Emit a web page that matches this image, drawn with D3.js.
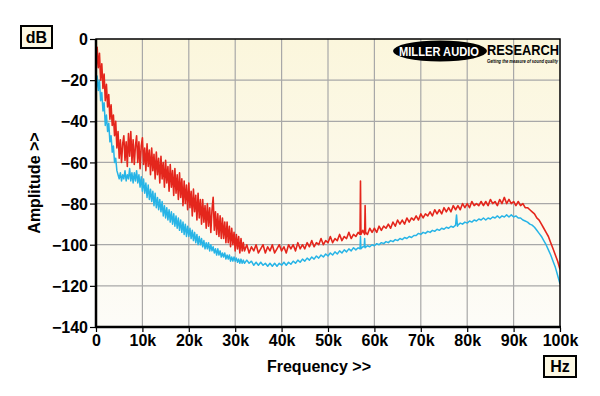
<!DOCTYPE html>
<html>
<head>
<meta charset="utf-8">
<script src="https://cdn.jsdelivr.net/npm/d3@7"></script>
<style>
  body { margin: 0; background: #fff; }
  svg { display: block; font-family: Arial, "Liberation Sans", sans-serif; }
</style>
</head>
<body>
<script>
// frequency (kHz), amplitude (dB)
var redSeries = [
  [0, -17], [0.25, -4], [0.5, -14], [0.75, -7], [1, -20], [1.25, -12], [1.5, -24], [1.75, -17],
  [2, -30], [2.25, -22], [2.5, -33], [2.75, -27], [3, -39], [3.25, -32], [3.5, -42], [3.75, -37],
  [4, -47], [4.25, -40], [4.5, -53], [4.75, -45], [5, -58], [5.25, -49], [5.5, -60], [5.75, -51],
  [6, -47], [6.25, -59], [6.5, -50], [6.75, -62], [7, -46], [7.25, -57], [7.5, -45], [7.75, -60],
  [8, -49], [8.25, -61], [8.5, -52], [8.75, -47], [9, -60], [9.25, -50], [9.5, -63], [9.75, -52],
  [10, -48], [10.25, -61], [10.5, -53], [10.75, -64], [11, -51], [11.25, -62], [11.5, -54], [11.75, -66],
  [12, -53], [12.25, -64], [12.5, -56], [12.75, -68], [13, -55], [13.25, -66], [13.5, -58], [13.75, -70],
  [14, -57], [14.25, -68], [14.5, -60], [14.75, -72], [15, -59], [15.25, -70], [15.5, -62], [15.75, -74],
  [16, -61], [16.25, -72], [16.5, -64], [16.75, -76], [17, -63], [17.25, -75], [17.5, -66], [17.75, -78],
  [18, -65], [18.25, -77], [18.5, -68], [18.75, -81], [19, -69], [19.25, -80], [19.5, -71], [19.75, -83],
  [20, -70], [20.25, -82], [20.5, -74], [20.75, -86], [21, -73], [21.25, -84], [21.5, -76], [21.75, -88],
  [22, -75], [22.25, -87], [22.5, -78], [22.75, -90], [23, -78], [23.25, -89], [23.5, -81], [23.75, -92],
  [24, -80], [24.25, -91], [24.5, -82], [24.75, -94], [25, -83], [25.25, -77], [25.5, -93], [25.75, -84],
  [26, -95], [26.25, -85], [26.5, -96], [26.75, -86], [27, -97], [27.25, -87], [27.5, -97], [27.75, -89],
  [28, -99], [28.25, -89], [28.5, -99], [28.75, -91], [29, -101], [29.25, -92], [29.5, -100], [29.75, -94],
  [30, -103], [30.25, -95], [30.5, -102], [30.75, -96], [31, -104], [31.25, -97], [31.5, -103], [31.75, -99],
  [32, -103], [32.5, -100], [33, -104], [33.5, -101], [34, -103], [34.5, -100], [35, -104], [35.5, -102],
  [36, -100], [36.5, -104], [37, -101], [37.5, -103], [38, -100], [38.5, -104], [39, -102], [39.5, -100],
  [40, -103], [40.5, -101], [41, -104], [41.5, -100], [42, -102], [42.5, -100], [43, -103], [43.5, -99],
  [44, -102], [44.5, -100], [45, -102], [45.5, -99], [46, -101], [46.5, -98], [47, -101], [47.5, -99],
  [48, -100], [48.5, -97], [49, -100], [49.5, -98], [50, -99], [50.5, -96], [51, -99], [51.5, -97],
  [52, -98], [52.5, -95], [53, -98], [53.5, -96], [54, -97], [54.5, -94], [55, -97], [55.5, -95],
  [56, -96], [56.5, -94], [56.9, -95], [57, -69], [57.1, -95], [57.5, -93], [57.9, -95], [58, -81],
  [58.1, -94], [58.5, -95], [59, -92], [59.5, -94], [60, -92], [60.5, -94], [61, -91], [61.5, -93],
  [62, -91], [62.5, -92], [63, -90], [63.5, -92], [64, -89], [64.5, -91], [65, -88], [65.5, -90],
  [66, -88], [66.5, -90], [67, -87], [67.5, -89], [68, -87], [68.5, -88], [69, -86], [69.5, -88],
  [70, -85], [70.5, -87], [71, -85], [71.5, -86], [72, -84], [72.5, -86], [73, -83], [73.5, -85],
  [74, -83], [74.5, -85], [75, -82], [75.5, -84], [76, -82], [76.5, -84], [77, -81], [77.5, -83],
  [78, -81], [78.5, -83], [79, -80], [79.5, -82], [80, -80], [80.5, -82], [81, -79], [81.5, -81],
  [82, -80], [82.5, -81], [83, -79], [83.5, -81], [84, -79], [84.5, -81], [85, -78], [85.5, -80],
  [86, -79], [86.5, -81], [87, -78], [87.5, -80], [88, -77], [88.5, -80], [89, -78], [89.5, -80],
  [90, -79], [90.5, -81], [91, -79], [91.5, -81], [92, -80], [92.5, -82], [93, -82], [93.5, -83],
  [94, -84], [94.5, -85], [95, -87], [95.5, -88], [96, -90], [96.5, -92], [97, -94], [97.5, -96],
  [98, -99], [98.5, -102], [99, -105], [99.5, -108], [100, -112]
];

var blueSeries = [
  [0, -26], [0.25, -18], [0.5, -25], [0.75, -20], [1, -30], [1.25, -26], [1.5, -35], [1.75, -31],
  [2, -42], [2.25, -37], [2.5, -45], [2.75, -41], [3, -50], [3.25, -47], [3.5, -55], [3.75, -52],
  [4, -60], [4.25, -58], [4.5, -64], [4.75, -66], [5, -68], [5.25, -65], [5.5, -69], [5.75, -66],
  [6, -68], [6.25, -64], [6.5, -69], [6.75, -66], [7, -68], [7.25, -63], [7.5, -69], [7.75, -65],
  [8, -70], [8.25, -65], [8.5, -69], [8.75, -64], [9, -70], [9.25, -66], [9.5, -72], [9.75, -67],
  [10, -74], [10.25, -68], [10.5, -75], [10.75, -70], [11, -77], [11.25, -71], [11.5, -78], [11.75, -73],
  [12, -79], [12.25, -74], [12.5, -81], [12.75, -75], [13, -82], [13.25, -77], [13.5, -83], [13.75, -78],
  [14, -84], [14.25, -79], [14.5, -86], [14.75, -81], [15, -87], [15.25, -82], [15.5, -88], [15.75, -83],
  [16, -89], [16.25, -84], [16.5, -90], [16.75, -85], [17, -91], [17.25, -86], [17.5, -92], [17.75, -87],
  [18, -93], [18.25, -88], [18.5, -94], [18.75, -89], [19, -95], [19.25, -90], [19.5, -96], [19.75, -91],
  [20, -96], [20.25, -92], [20.5, -97], [20.75, -93], [21, -98], [21.25, -94], [21.5, -99], [21.75, -95],
  [22, -100], [22.25, -96], [22.5, -100], [22.75, -97], [23, -101], [23.25, -98], [23.5, -102], [23.75, -99],
  [24, -102], [24.25, -99], [24.5, -103], [24.75, -100], [25, -103], [25.25, -101], [25.5, -104], [25.75, -102],
  [26, -105], [26.25, -102], [26.5, -105], [26.75, -103], [27, -106], [27.25, -104], [27.5, -106], [27.75, -104],
  [28, -107], [28.25, -105], [28.5, -107], [28.75, -105], [29, -108], [29.25, -106], [29.5, -108], [29.75, -106],
  [30, -108], [30.25, -106.5], [30.5, -108.5], [30.75, -107], [31, -109], [31.25, -107], [31.5, -109], [31.75, -107.5],
  [32, -109], [32.5, -107.5], [33, -109], [33.5, -108], [34, -110], [34.5, -108.5], [35, -110], [35.5, -108.5],
  [36, -110], [36.5, -109], [37, -110.5], [37.5, -109], [38, -110.5], [38.5, -109], [39, -110.5], [39.5, -109],
  [40, -110], [40.5, -108.5], [41, -110], [41.5, -108.5], [42, -109.5], [42.5, -108], [43, -109], [43.5, -107.5],
  [44, -108.5], [44.5, -107], [45, -108], [45.5, -106.5], [46, -107.5], [46.5, -106], [47, -107], [47.5, -105.5],
  [48, -106.5], [48.5, -105], [49, -106], [49.5, -104.5], [50, -105.5], [50.5, -104], [51, -105], [51.5, -103.5],
  [52, -104.5], [52.5, -103], [53, -104], [53.5, -102.5], [54, -103.5], [54.5, -102], [55, -103], [55.5, -101.5],
  [56, -102.5], [56.5, -101.5], [56.9, -102], [57, -96], [57.1, -102], [57.5, -101], [57.8, -101], [57.9, -97],
  [58, -101.5], [58.5, -100.5], [59, -101], [59.5, -100], [60, -100.5], [60.5, -99.5], [61, -100], [61.5, -99],
  [62, -99.5], [62.5, -98.5], [63, -99], [63.5, -98], [64, -98.5], [64.5, -97.5], [65, -98], [65.5, -97],
  [66, -97.5], [66.5, -96.5], [67, -97], [67.5, -96], [68, -96.5], [68.5, -95.5], [69, -95.5], [69.5, -94.5],
  [70, -95], [70.5, -94], [71, -94.5], [71.5, -93.5], [72, -94], [72.5, -93], [73, -93.5], [73.5, -92.5],
  [74, -93], [74.5, -92], [75, -92.5], [75.5, -91.5], [76, -92], [76.5, -91], [77, -91.5], [77.5, -90.5],
  [77.7, -85.5], [77.9, -91], [78, -90.5], [78.5, -89.5], [79, -90], [79.5, -89], [80, -89.5], [80.5, -88.5],
  [81, -89], [81.5, -88], [82, -88.5], [82.5, -87.5], [83, -88], [83.5, -87], [84, -88], [84.5, -87],
  [85, -87.5], [85.5, -86.5], [86, -87], [86.5, -86], [87, -87], [87.5, -86], [88, -86.5], [88.5, -85.5],
  [89, -86.5], [89.5, -85.5], [90, -86.5], [90.5, -86], [91, -87], [91.5, -87], [92, -88], [92.5, -88.5],
  [93, -89], [93.5, -90], [94, -90.5], [94.5, -91.5], [95, -93], [95.5, -94.5], [96, -96], [96.5, -98],
  [97, -100], [97.5, -102.5], [98, -105], [98.5, -108], [99, -111], [99.5, -115], [100, -119]
];

var xTicks = [0, 10, 20, 30, 40, 50, 60, 70, 80, 90, 100];
var xTickLabels = ["0", "10k", "20k", "30k", "40k", "50k", "60k", "70k", "80k", "90k", "100k"];
var yTicks = [0, -20, -40, -60, -80, -100, -120, -140];

var width = 600, height = 396;
var plotLeft = 96, plotRight = 560, plotTop = 39, plotBottom = 327;

var svg = d3.select("body").append("svg")
    .attr("width", width)
    .attr("height", height);

var x = d3.scaleLinear().domain([0, 100]).range([plotLeft, plotRight]);
var y = d3.scaleLinear().domain([-140, 0]).range([plotBottom, plotTop]);

// cream background fading down
var defs = svg.append("defs");
var grad = defs.append("linearGradient")
    .attr("id", "bg").attr("x1", 0).attr("y1", 0).attr("x2", 0).attr("y2", 1);
grad.append("stop").attr("offset", "0%").attr("stop-color", "#fbf6dc");
grad.append("stop").attr("offset", "100%").attr("stop-color", "#fdfcf8");

defs.append("clipPath").attr("id", "plotclip")
    .append("rect")
    .attr("x", plotLeft).attr("y", plotTop)
    .attr("width", plotRight - plotLeft).attr("height", plotBottom - plotTop);

svg.append("rect")
    .attr("x", plotLeft).attr("y", plotTop)
    .attr("width", plotRight - plotLeft).attr("height", plotBottom - plotTop)
    .attr("fill", "url(#bg)");

// grid
svg.append("g").selectAll("line")
    .data(xTicks.slice(1, -1))
    .enter().append("line")
    .attr("x1", function (d) { return x(d); })
    .attr("x2", function (d) { return x(d); })
    .attr("y1", plotTop).attr("y2", plotBottom)
    .attr("stroke", "#a8a8a8").attr("stroke-width", 1.2);

svg.append("g").selectAll("line")
    .data(yTicks.slice(1, -1))
    .enter().append("line")
    .attr("y1", function (d) { return y(d); })
    .attr("y2", function (d) { return y(d); })
    .attr("x1", plotLeft).attr("x2", plotRight)
    .attr("stroke", "#a8a8a8").attr("stroke-width", 1.2);

// logo
var logo = svg.append("g");
logo.append("ellipse")
    .attr("cx", 440).attr("cy", 51).attr("rx", 47).attr("ry", 10.5)
    .attr("fill", "#000");
logo.append("text")
    .attr("x", 439).attr("y", 55.5)
    .attr("text-anchor", "middle")
    .attr("font-size", 13).attr("font-weight", "bold")
    .attr("fill", "#fff")
    .attr("textLength", 80).attr("lengthAdjust", "spacingAndGlyphs")
    .text("MILLER AUDIO");
logo.append("text")
    .attr("x", 487).attr("y", 54.5)
    .attr("font-size", 14).attr("font-weight", "bold")
    .attr("fill", "#000")
    .attr("textLength", 72).attr("lengthAdjust", "spacingAndGlyphs")
    .text("RESEARCH");
logo.append("text")
    .attr("x", 487).attr("y", 62.5)
    .attr("font-size", 4.8).attr("font-weight", "bold").attr("font-style", "italic")
    .attr("fill", "#000")
    .attr("textLength", 71).attr("lengthAdjust", "spacingAndGlyphs")
    .text("Getting the measure of sound quality");

// traces
var line = d3.line()
    .x(function (d) { return x(d[0]); })
    .y(function (d) { return y(d[1]); });

svg.append("path")
    .datum(blueSeries)
    .attr("d", line)
    .attr("clip-path", "url(#plotclip)")
    .attr("fill", "none")
    .attr("stroke", "#27b4e6")
    .attr("stroke-width", 1.5)
    .attr("stroke-linejoin", "round");

svg.append("path")
    .datum(redSeries)
    .attr("d", line)
    .attr("clip-path", "url(#plotclip)")
    .attr("fill", "none")
    .attr("stroke", "#e4261c")
    .attr("stroke-width", 1.6)
    .attr("stroke-linejoin", "round");

// frame
svg.append("rect")
    .attr("x", plotLeft).attr("y", plotTop)
    .attr("width", plotRight - plotLeft).attr("height", plotBottom - plotTop)
    .attr("fill", "none")
    .attr("stroke", "#000").attr("stroke-width", 1.5);
svg.append("line")
    .attr("x1", plotLeft).attr("x2", plotLeft).attr("y1", plotTop).attr("y2", plotBottom + 1)
    .attr("stroke", "#000").attr("stroke-width", 2.5);
svg.append("line")
    .attr("x1", plotLeft - 1).attr("x2", plotRight + 1).attr("y1", plotBottom).attr("y2", plotBottom)
    .attr("stroke", "#000").attr("stroke-width", 2.5);

// axes
var xAxis = d3.axisBottom(x)
    .tickValues(xTicks)
    .tickSize(4)
    .tickPadding(3)
    .tickFormat(function (d, i) { return xTickLabels[i]; });

var gx = svg.append("g")
    .attr("transform", "translate(0," + (plotBottom + 1) + ")")
    .call(xAxis);
gx.select(".domain").remove();

var yAxis = d3.axisLeft(y)
    .tickValues(yTicks)
    .tickSize(5)
    .tickPadding(2);

var gy = svg.append("g")
    .attr("transform", "translate(" + (plotLeft - 1) + ",0)")
    .call(yAxis);
gy.select(".domain").remove();

[gx, gy].forEach(function (g) {
    g.selectAll("line").attr("stroke", "#000").attr("stroke-width", 1.2);
    g.selectAll("text")
        .attr("fill", "#000")
        .attr("font-size", 16)
        .attr("font-weight", "bold")
        .attr("font-family", "Arial, 'Liberation Sans', sans-serif");
});
gy.selectAll("text").attr("dy", "0.35em");

// axis titles
svg.append("text")
    .attr("x", 319).attr("y", 372)
    .attr("text-anchor", "middle")
    .attr("font-size", 16).attr("font-weight", "bold")
    .text("Frequency >>");

svg.append("text")
    .attr("transform", "translate(40,183) rotate(-90)")
    .attr("text-anchor", "middle")
    .attr("font-size", 16).attr("font-weight", "bold")
    .text("Amplitude >>");

// unit boxes
function unitBox(bx, by, bw, bh, label) {
    svg.append("rect")
        .attr("x", bx).attr("y", by).attr("width", bw).attr("height", bh)
        .attr("fill", "#fcf8e4")
        .attr("stroke", "#000").attr("stroke-width", 2);
    svg.append("text")
        .attr("x", bx + bw / 2).attr("y", by + bh / 2 + 5.5)
        .attr("text-anchor", "middle")
        .attr("font-size", 16).attr("font-weight", "bold")
        .text(label);
}
unitBox(21, 26, 31, 22, "dB");
unitBox(544, 356, 32, 21, "Hz");
</script>
</body>
</html>
